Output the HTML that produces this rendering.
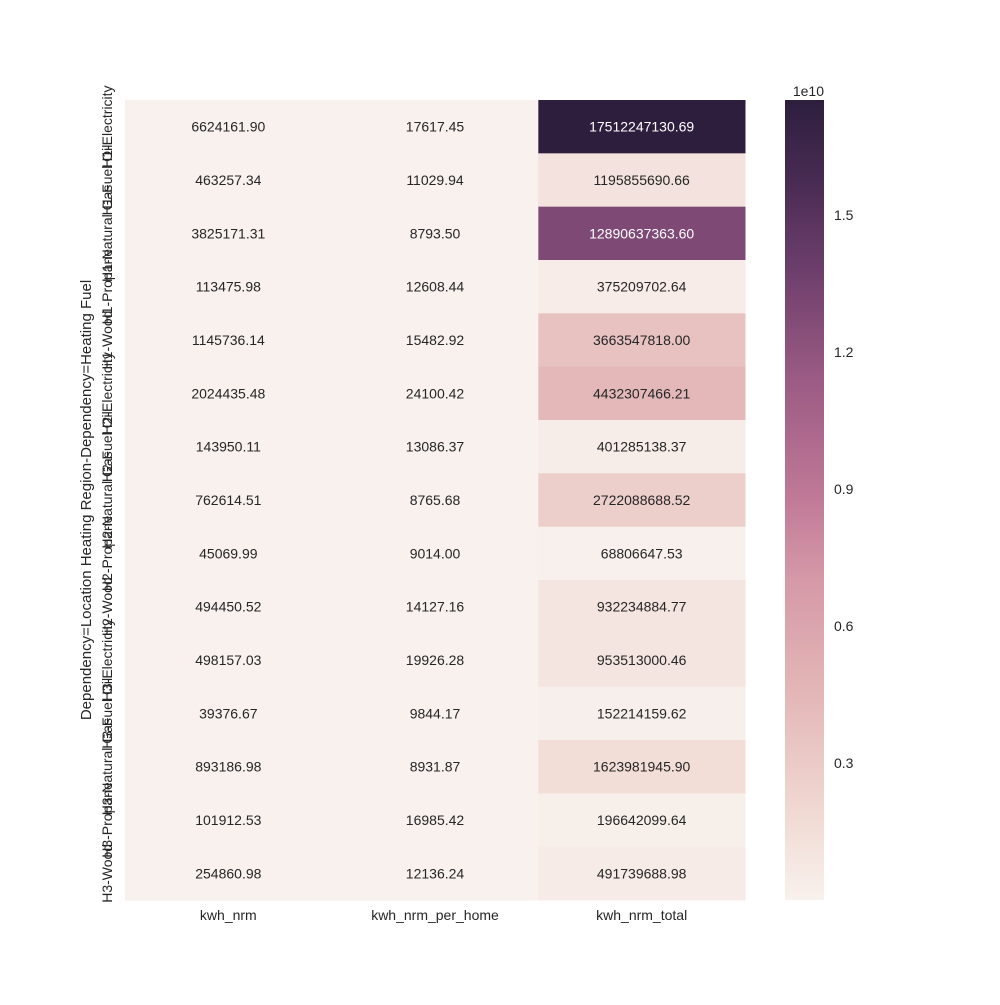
<!DOCTYPE html>
<html><head><meta charset="utf-8"><style>
body{margin:0;background:#fff;font-family:"Liberation Sans",sans-serif;}
svg text{font-family:"Liberation Sans",sans-serif;}
</style></head><body>
<svg id="chart" width="1000" height="1000" xmlns="http://www.w3.org/2000/svg">
<rect width="1000" height="1000" fill="#fff"/>
<g id="cells"></g>
<g id="cbar"></g>
<text x="91" y="500" transform="rotate(-90 91 500)" font-size="15" fill="#262626" text-anchor="middle">Dependency=Location Heating Region-Dependency=Heating Fuel</text>
</svg>
<script>
const rows=["H1-Electricity","H1-Fuel Oil","H1-Natural Gas","H1-Propane","H1-Wood","H2-Electricity","H2-Fuel Oil","H2-Natural Gas","H2-Propane","H2-Wood","H3-Electricity","H3-Fuel Oil","H3-Natural Gas","H3-Propane","H3-Wood"];
const cols=["kwh_nrm","kwh_nrm_per_home","kwh_nrm_total"];
const kwhNrm=[6624161.90,463257.34,3825171.31,113475.98,1145736.14,2024435.48,143950.11,762614.51,45069.99,494450.52,498157.03,39376.67,893186.98,101912.53,254860.98];
const kwhPerHome=[17617.45,11029.94,8793.50,12608.44,15482.92,24100.42,13086.37,8765.68,9014.00,14127.16,19926.28,9844.17,8931.87,16985.42,12136.24];
const kwhTotal=[17512247130.69,1195855690.66,12890637363.60,375209702.64,3663547818.00,4432307466.21,401285138.37,2722088688.52,68806647.53,932234884.77,953513000.46,152214159.62,1623981945.90,196642099.64,491739688.98];
const cbTicks=[0.3,0.6,0.9,1.2,1.5];
const series=[kwhNrm,kwhPerHome,kwhTotal];
const NS="http://www.w3.org/2000/svg";
const X0=125,X1=745,Y0=100,Y1=900;
const all=series.flat();const vmin=Math.min(...all),vmax=Math.max(...all);
const stops=[[0,[248,241,237]],[0.1,[241,219,213]],[0.25,[228,184,184]],[0.4,[213,153,167]],[0.5,[193,122,152]],[0.65,[155,91,132]],[0.8,[105,60,105]],[0.9,[72,43,82]],[1,[45,30,62]]];
function cmap(t){t=Math.max(0,Math.min(1,t));for(let i=1;i<stops.length;i++){if(t<=stops[i][0]){const a=stops[i-1],b=stops[i];const f=(t-a[0])/(b[0]-a[0]);return a[1].map((v,k)=>Math.round(v+(b[1][k]-v)*f));}}return stops[stops.length-1][1];}
const cw=(X1-X0)/cols.length,rh=(Y1-Y0)/rows.length;
function xs(j){return X0+j*cw;}function ys(i){return Y0+i*rh;}
const g=document.getElementById('cells');
function mk(tag,attrs,parent){const e=document.createElementNS(NS,tag);for(const k in attrs)e.setAttribute(k,attrs[k]);parent.appendChild(e);return e;}
series.forEach((s,j)=>{s.forEach((v,i)=>{
 const c=cmap((v-vmin)/(vmax-vmin));
 const r=mk('rect',{x:xs(j),y:ys(i),width:cw+0.5,height:rh+0.5,fill:`rgb(${c})`},g);
 
 
 const lum=0.299*c[0]+0.587*c[1]+0.114*c[2];
 const t=mk('text',{x:xs(j)+cw/2,y:ys(i)+rh/2+5,'font-size':14,'text-anchor':'middle',fill:lum<128?'#fff':'#262626'},g);
 t.textContent=v.toFixed(2);
 
 
});});
cols.forEach((c,j)=>{const t=mk('text',{x:xs(j)+cw/2,y:920,'font-size':14,'text-anchor':'middle',fill:'#262626'},g);t.textContent=c;
 
 });
rows.forEach((r,i)=>{const cy=ys(i)+rh/2;const t=mk('text',{x:112,y:cy,'font-size':14,'text-anchor':'middle',fill:'#262626',transform:`rotate(-90 112 ${cy})`},g);t.textContent=r;
 
 });
const cb=document.getElementById('cbar');
const defs=mk('defs',{},cb);const lg=mk('linearGradient',{id:'cg',x1:0,y1:1,x2:0,y2:0},defs);
for(let k=0;k<=20;k++){const c=cmap(k/20);mk('stop',{offset:k/20,'stop-color':`rgb(${c})`},lg);}
const cbr=mk('rect',{x:785,y:Y0,width:39,height:Y1-Y0,fill:'url(#cg)'},cb);


function cy(v){return Y1-(v*1e10-vmin)/(vmax-vmin)*(Y1-Y0);}
cbTicks.forEach(v=>{const t=mk('text',{x:834,y:cy(v)+5,'font-size':14,fill:'#262626'},cb);t.textContent=v.toFixed(1);
 
 });
const ex=mk('text',{x:824,y:96,'font-size':14,'text-anchor':'end',fill:'#262626'},cb);ex.textContent='1e10';


</script>
</body></html>
